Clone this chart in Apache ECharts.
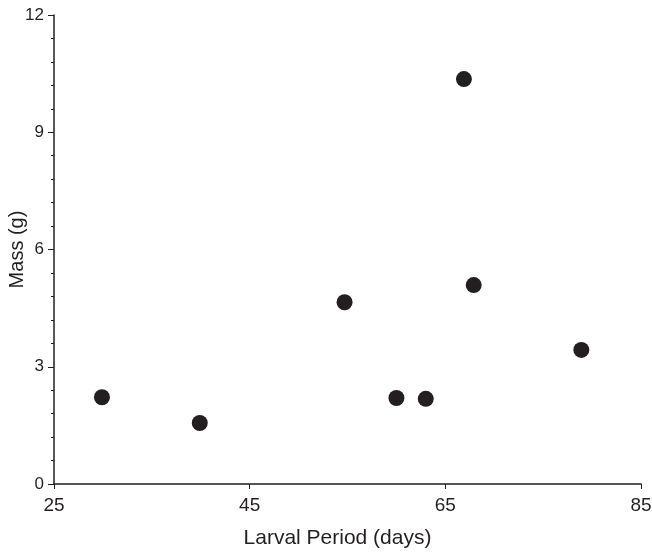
<!DOCTYPE html>
<html>
<head>
<meta charset="utf-8">
<script src="https://cdn.jsdelivr.net/npm/echarts@6/dist/echarts.min.js"></script>
<style>
  html, body { margin: 0; padding: 0; background: #fff; }
  #chart { width: 652px; height: 553px; }
</style>
</head>
<body>
<div id="chart"></div>
<script>
// larval period (days) vs mass (g)
var larvalPeriod = [29.9, 39.9, 54.7, 60.0, 63.0, 66.9, 67.9, 78.9];
var mass = [2.22, 1.56, 4.65, 2.2, 2.18, 10.36, 5.09, 3.43];
var xTicks = [25, 45, 65, 85];
var yTicks = [0, 3, 6, 9, 12];

var points = larvalPeriod.map(function (x, i) { return [x, mass[i]]; });

var axisColor = '#231f20';
var font = 'Liberation Sans, Arial, sans-serif';

var myChart = echarts.init(document.getElementById('chart'));
myChart.setOption({
    animation: false,
    grid: { left: 54, right: 11, top: 15, bottom: 69, containLabel: false, outerBoundsMode: 'none' },
    xAxis: {
        type: 'value',
        min: xTicks[0],
        max: xTicks[xTicks.length - 1],
        interval: 20,
        name: 'Larval Period (days)',
        nameLocation: 'middle',
        nameGap: 44,
        nameMoveOverlap: false,
        nameTextStyle: { fontFamily: font, fontSize: 21, color: axisColor, padding: [0, 20, 0, 0] },
        axisLine: { lineStyle: { color: axisColor, width: 1.5 } },
        axisTick: { show: true, length: 5, lineStyle: { color: axisColor } },
        axisLabel: { fontFamily: font, fontSize: 19, color: axisColor, margin: 12 },
        splitLine: { show: false }
    },
    yAxis: {
        type: 'value',
        min: yTicks[0],
        max: yTicks[yTicks.length - 1],
        interval: 3,
        name: 'Mass (g)',
        nameLocation: 'middle',
        nameGap: 27,
        nameMoveOverlap: false,
        nameTextStyle: { fontFamily: font, fontSize: 20, color: axisColor },
        axisLine: { show: true, lineStyle: { color: axisColor, width: 1.5 } },
        axisTick: { show: true, length: 6, lineStyle: { color: axisColor } },
        minorTick: { show: true, splitNumber: 5, length: 3, lineStyle: { color: axisColor } },
        axisLabel: { fontFamily: font, fontSize: 17, color: axisColor, margin: 10 },
        splitLine: { show: false }
    },
    series: [{
        type: 'scatter',
        data: points,
        symbol: 'circle',
        symbolSize: 16,
        itemStyle: { color: '#231f20', opacity: 1 }
    }]
});
</script>
</body>
</html>
